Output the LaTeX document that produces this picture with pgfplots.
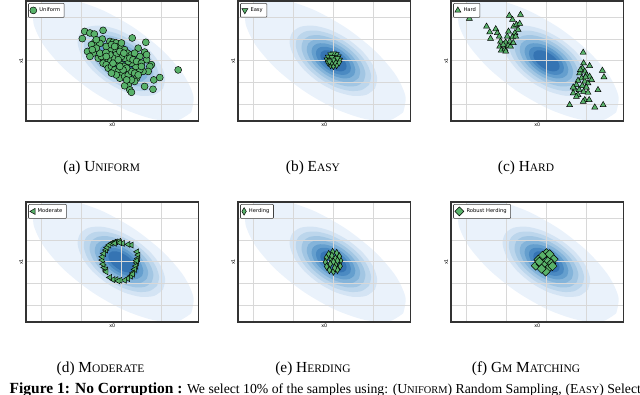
\documentclass[border=0pt]{standalone}
\usepackage{fontspec}
\setmainfont{Liberation Serif}
\newfontfamily\dejavu{DejaVu Sans}
\usepackage{pgfplots}
\usepackage{pgfplotstable}
\pgfplotsset{compat=1.18}

\definecolor{kdA}{HTML}{EAF2FB}
\definecolor{kdB}{HTML}{D4E4F4}
\definecolor{kdC}{HTML}{BCD6EC}
\definecolor{kdD}{HTML}{A2C6E3}
\definecolor{kdE}{HTML}{84B4DA}
\definecolor{kdF}{HTML}{659FCE}
\definecolor{kdG}{HTML}{4B8AC2}
\definecolor{kdH}{HTML}{3574B3}
\definecolor{ptgreen}{HTML}{59B26A}
\definecolor{gridgray}{HTML}{D8D8D8}

% density contours (same for every panel)
\pgfplotstableread{
x y
1.748 -2.366
1.397 -2.737
0.802 -2.682
0.055 -2.213
-0.731 -1.398
-1.437 -0.363
-1.953 0.734
-2.203 1.727
-2.148 2.466
-1.797 2.837
-1.202 2.782
-0.455 2.313
0.331 1.498
1.037 0.463
1.553 -0.634
1.803 -1.627
1.748 -2.366
}\levA
\pgfplotstableread{
x y
1.036 -1.285
0.818 -1.567
0.476 -1.609
0.062 -1.408
-0.363 -0.991
-0.732 -0.424
-0.989 0.208
-1.096 0.807
-1.036 1.285
-0.818 1.567
-0.476 1.609
-0.062 1.408
0.363 0.991
0.732 0.424
0.989 -0.208
1.096 -0.807
1.036 -1.285
}\levB
\pgfplotstableread{
x y
0.891 -1.105
0.703 -1.348
0.409 -1.384
0.053 -1.211
-0.312 -0.852
-0.630 -0.365
-0.851 0.179
-0.943 0.694
-0.891 1.105
-0.703 1.348
-0.409 1.384
-0.053 1.211
0.312 0.852
0.630 0.365
0.851 -0.179
0.943 -0.694
0.891 -1.105
}\levC
\pgfplotstableread{
x y
0.756 -0.938
0.597 -1.144
0.347 -1.175
0.045 -1.028
-0.265 -0.723
-0.534 -0.310
-0.722 0.152
-0.800 0.589
-0.756 0.938
-0.597 1.144
-0.347 1.175
-0.045 1.028
0.265 0.723
0.534 0.310
0.722 -0.152
0.800 -0.589
0.756 -0.938
}\levD
\pgfplotstableread{
x y
0.632 -0.784
0.499 -0.956
0.290 -0.981
0.038 -0.859
-0.221 -0.605
-0.447 -0.259
-0.603 0.127
-0.669 0.492
-0.632 0.784
-0.499 0.956
-0.290 0.981
-0.038 0.859
0.221 0.605
0.447 0.259
0.603 -0.127
0.669 -0.492
0.632 -0.784
}\levE
\pgfplotstableread{
x y
0.518 -0.643
0.409 -0.784
0.238 -0.805
0.031 -0.704
-0.182 -0.496
-0.366 -0.212
-0.495 0.104
-0.548 0.404
-0.518 0.643
-0.409 0.784
-0.238 0.805
-0.031 0.704
0.182 0.496
0.366 0.212
0.495 -0.104
0.548 -0.404
0.518 -0.643
}\levF
\pgfplotstableread{
x y
0.414 -0.514
0.327 -0.627
0.190 -0.644
0.025 -0.563
-0.145 -0.396
-0.293 -0.170
-0.396 0.083
-0.438 0.323
-0.414 0.514
-0.327 0.627
-0.190 0.644
-0.025 0.563
0.145 0.396
0.293 0.170
0.396 -0.083
0.438 -0.323
0.414 -0.514
}\levG
\pgfplotstableread{
x y
0.311 -0.386
0.245 -0.470
0.143 -0.483
0.019 -0.422
-0.109 -0.297
-0.220 -0.127
-0.297 0.062
-0.329 0.242
-0.311 0.386
-0.245 0.470
-0.143 0.483
-0.019 0.422
0.109 0.297
0.220 0.127
0.297 -0.062
0.329 -0.242
0.311 -0.386
}\levH

% selected samples
\pgfplotstableread{
x y
-0.92 1.35
-0.79 1.28
-0.68 1.23
-0.46 1.40
-0.98 1.02
-0.48 1.00
0.27 1.05
-0.67 0.85
-0.54 0.80
-0.75 0.74
-0.85 0.43
-0.71 0.35
-0.58 0.12
-0.79 0.20
-0.29 0.89
-0.21 0.85
-0.13 0.82
-0.08 0.66
-0.17 0.51
-0.29 0.51
-0.38 0.66
0.00 0.58
0.08 0.51
0.15 0.35
0.25 0.28
0.42 0.58
0.61 0.85
0.58 0.40
0.46 0.20
0.63 0.05
0.75 -0.18
0.71 -0.26
0.67 -0.49
0.54 -0.49
0.46 -0.42
0.36 -0.26
0.25 -0.11
0.17 -0.03
0.08 0.12
0.00 0.20
-0.13 0.28
-0.21 0.12
-0.33 0.05
-0.42 0.05
-0.50 0.20
-0.46 -0.11
-0.38 -0.18
-0.33 -0.34
-0.25 -0.26
-0.17 -0.42
-0.08 -0.49
0.00 -0.65
-0.04 -0.80
0.08 -0.72
0.17 -0.65
0.25 -0.49
0.33 -0.57
0.38 -0.80
0.33 -0.95
0.17 -1.11
0.08 -1.15
0.21 -1.34
0.25 -1.45
0.58 -1.18
0.79 -1.31
0.81 -0.88
0.96 -0.77
1.42 -0.42
-0.08 -0.11
0.00 -0.18
0.06 -0.26
0.13 -0.34
-0.21 -0.11
-0.29 0.28
-0.54 0.35
-0.63 0.58
-0.39 0.38
-0.25 0.74
-0.04 0.43
0.06 0.35
0.21 0.12
0.29 0.05
0.38 -0.03
0.50 -0.11
0.42 -0.65
0.25 -0.88
0.13 -0.88
-0.13 -0.65
-0.25 -0.57
-0.38 0.20
-0.08 0.05
-0.17 0.66
0.00 0.82
-0.63 0.97
-0.73 0.51
0.50 -0.26
0.63 0.28
0.33 0.35
0.04 -0.42
-0.04 -0.26
}\uniform
\pgfplotstableread{
x y
0.15 0.04
0.12 0.19
0.07 0.30
0.00 0.33
-0.07 0.29
-0.13 0.18
-0.16 0.05
-0.13 -0.10
-0.07 -0.21
0.00 -0.25
0.08 -0.21
0.14 -0.09
0.07 0.06
0.04 0.16
-0.04 0.16
-0.08 0.03
-0.04 -0.08
0.04 -0.08
0.00 0.04
0.10 0.12
-0.10 -0.04
}\easy
\pgfplotstableread{
x y
-1.93 1.94
-1.50 1.58
-1.42 1.32
-1.40 1.02
-1.27 1.46
-1.23 1.28
-1.18 1.12
-1.15 0.89
-1.17 0.66
-1.13 0.48
-1.04 0.54
-1.02 0.85
-0.98 1.12
-0.95 1.35
-0.93 2.08
-0.85 1.89
-0.82 1.58
-0.75 1.66
-0.67 1.71
-0.65 2.12
-0.71 1.43
-0.79 1.28
-0.85 1.09
-0.92 0.89
-0.96 0.69
-1.08 0.74
-0.90 0.66
-0.83 0.82
-0.77 1.12
-1.02 0.43
0.92 0.38
0.93 -0.11
1.08 -0.23
0.90 -0.34
0.96 -0.49
0.83 -0.57
1.00 -0.65
1.08 -0.72
0.88 -0.80
0.79 -0.91
0.96 -0.95
1.04 -1.03
0.75 -1.11
0.90 -1.15
1.00 -1.22
0.71 -1.31
0.82 -1.34
0.93 -1.42
1.04 -1.46
0.67 -1.49
0.79 -1.57
0.75 -1.65
0.96 -1.80
0.92 -1.88
1.07 -1.80
0.58 -2.03
1.21 -2.14
1.42 -2.03
1.29 -1.34
1.40 -0.45
1.44 -0.75
0.85 -0.42
0.98 -0.75
1.13 -0.88
0.67 -1.22
}\hard
\pgfplotstableread{
x y
-0.39 0.54
-0.36 0.66
-0.31 0.77
-0.25 0.85
-0.19 0.89
-0.13 0.92
-0.06 0.94
0.03 0.85
0.25 0.77
0.39 0.46
0.42 0.31
0.41 0.15
0.38 -0.05
0.36 -0.20
0.33 -0.35
0.29 -0.51
0.23 -0.66
0.16 -0.77
0.08 -0.85
-0.03 -0.85
-0.13 -0.82
-0.21 -0.82
-0.29 -0.72
-0.39 -0.38
-0.43 -0.26
-0.46 -0.11
-0.48 0.08
-0.48 0.23
-0.44 0.38
-0.17 0.85
-0.04 0.88
0.38 0.05
0.28 -0.57
-0.08 -0.88
-0.38 -0.46
0.17 0.80
}\moderate
\pgfplotstableread{
x y
0.18 0.05
0.15 0.25
0.08 0.40
-0.02 0.45
-0.12 0.35
-0.18 0.18
-0.20 -0.02
-0.17 -0.22
-0.10 -0.38
0.00 -0.45
0.10 -0.37
0.17 -0.20
0.05 0.15
-0.06 0.12
-0.08 -0.10
0.06 -0.12
0.00 0.00
0.10 0.05
-0.04 0.28
0.03 -0.28
}\herding
\pgfplotstableread{
x y
0.00 0.40
0.10 0.25
0.18 0.12
-0.10 0.28
-0.20 0.10
-0.27 -0.18
-0.15 -0.10
-0.05 -0.05
0.05 0.05
0.12 -0.08
0.05 -0.30
-0.02 -0.45
-0.12 -0.32
0.15 -0.20
-0.18 0.00
0.08 0.35
}\robust

\newcommand{\fsc}[1]{{\fontsize{8.6}{9}\selectfont #1}}
\newcommand{\fscs}[1]{{\fontsize{7.8}{9}\selectfont #1}}

\newcommand{\density}{%
  \addplot[forget plot, on layer=axis background, fill=kdA, draw=none, smooth] table {\levA};
  \addplot[forget plot, on layer=axis background, fill=kdB, draw=none, smooth] table {\levB};
  \addplot[forget plot, on layer=axis background, fill=kdC, draw=none, smooth] table {\levC};
  \addplot[forget plot, on layer=axis background, fill=kdD, draw=none, smooth] table {\levD};
  \addplot[forget plot, on layer=axis background, fill=kdE, draw=none, smooth] table {\levE};
  \addplot[forget plot, on layer=axis background, fill=kdF, draw=none, smooth] table {\levF};
  \addplot[forget plot, on layer=axis background, fill=kdG, draw=none, smooth] table {\levG};
  \addplot[forget plot, on layer=axis background, fill=kdH, draw=none, smooth] table {\levH};
}

\pgfplotsset{
  panel/.style={
    scale only axis, width=129.4pt, height=90pt, anchor=north west,
    xmin=-2.39, xmax=1.93, ymin=-2.77, ymax=2.75,
    xtick={-2,-1,0,1}, ytick={-2,-1,0,1,2},
    xticklabels={}, yticklabels={}, major tick length=0pt,
    grid=major, grid style={color=gridgray, line width=0.7pt},
    axis line style={color=black!80, line width=0.9pt},
    set layers, clip mode=individual,
    xlabel={x0}, ylabel={x1},
    label style={font=\dejavu\fontsize{3.6}{4}\selectfont},
    xlabel style={at={(axis description cs:0.5,0)}, anchor=north, inner sep=1.3pt},
    ylabel style={at={(axis description cs:0,0.5)}, anchor=south, inner sep=2.2pt},
    legend style={at={(0.013,0.982)}, anchor=north west, draw=black!75, fill=white,
      line width=0.4pt, rounded corners=0.6pt, inner sep=1pt,
      font=\dejavu\fontsize{3.9}{4.5}\selectfont, cells={anchor=west}},
    legend image code/.code={\draw[mark repeat=2,mark phase=2,#1] plot coordinates {(0cm,0cm) (0.17cm,0cm) (0.34cm,0cm)};},
  },
}

\begin{document}
\begin{tikzpicture}

\begin{axis}[panel, at={(19.5pt,-0.75pt)}]
  \density
  \addplot[only marks, mark=*, mark size=2.6pt, mark options={fill=ptgreen, draw=black, line width=0.35pt}] table {\uniform};
  \addlegendentry{Uniform}
\end{axis}

\begin{axis}[panel, at={(178.5pt,-0.75pt)}]
  \density
  \addplot[only marks, mark=triangle*, mark size=2.6pt, mark options={rotate=180, fill=ptgreen, draw=black, line width=0.35pt}] table {\easy};
  \addlegendentry{Easy}
\end{axis}

\begin{axis}[panel, at={(338.25pt,-0.75pt)}]
  \density
  \addplot[only marks, mark=triangle*, mark size=2.6pt, mark options={fill=ptgreen, draw=black, line width=0.35pt}] table {\hard};
  \addlegendentry{Hard}
\end{axis}

\begin{axis}[panel, at={(19.5pt,-151.5pt)}]
  \density
  \addplot[only marks, mark=triangle*, mark size=2.6pt, mark options={rotate=90, fill=ptgreen, draw=black, line width=0.35pt}] table {\moderate};
  \addlegendentry{Moderate}
\end{axis}

\begin{axis}[panel, at={(178.5pt,-151.5pt)}]
  \density
  \addplot[only marks, mark=diamond*, mark size=2.8pt, mark options={xscale=0.8, fill=ptgreen, draw=black, line width=0.35pt}] table {\herding};
  \addlegendentry{Herding}
\end{axis}

\begin{axis}[panel, at={(338.25pt,-151.5pt)}]
  \density
  \addplot[only marks, mark=square*, mark size=2.4pt, mark options={rotate=45, fill=ptgreen, draw=black, line width=0.35pt}] table {\robust};
  \addlegendentry{Robust Herding}
\end{axis}

\begin{scope}[every node/.style={font=\fontsize{11.5}{12}\selectfont, anchor=base, inner sep=0pt}]
  \node at (76.3pt,-128.25pt) {(a) U\fsc{NIFORM}};
  \node at (234.75pt,-128.25pt) {(b) E\fsc{ASY}};
  \node at (394.5pt,-128.25pt) {(c) H\fsc{ARD}};
  \node at (75.4pt,-279pt) {(d) M\fsc{ODERATE}};
  \node at (234.75pt,-279pt) {(e) H\fsc{ERDING}};
  \node at (394.5pt,-279pt) {(f) G\fsc{M} M\fsc{ATCHING}};
\end{scope}
\begin{scope}[every node/.style={font=\fontsize{10.3}{12}\selectfont, inner sep=0pt}]
  \node[anchor=base east] (capA) at (421.5pt,-295.3pt) {We select 10\% of the samples using: (U\fscs{NIFORM}) Random Sampling,};
  \node[anchor=base west] at (424pt,-295.3pt) {(E\fscs{ASY}) Selecting the easiest samples};
  \node[anchor=base east, xshift=-3pt, font=\fontsize{11.6}{12}\selectfont] at (capA.base west) {\textbf{Figure 1: No Corruption :}};
\end{scope}

\pgfresetboundingbox
\path[use as bounding box] (0,0) rectangle (480pt,-295.5pt);
\end{tikzpicture}
\end{document}
